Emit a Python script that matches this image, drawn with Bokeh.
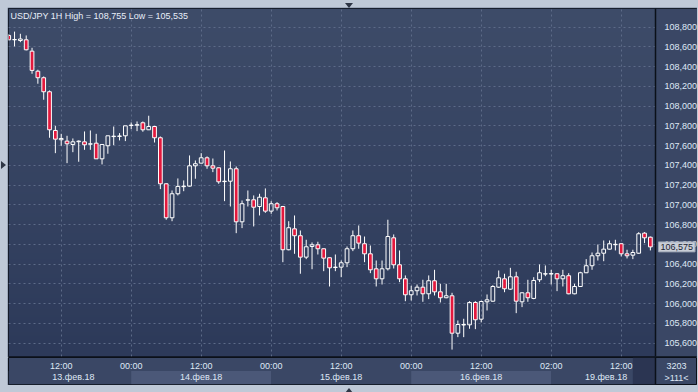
import numpy as np
from bokeh.plotting import figure
from bokeh.models import Range1d, FixedTicker, CustomJSTickFormatter, Label, Span, Div
from bokeh.layouts import column, row
from bokeh.embed import file_html
from bokeh.resources import INLINE
from bokeh.core.properties import value

# ---------------- data (USD/JPY, 1H bars) ----------------
opens = [108.716, 108.672, 108.665, 108.672, 108.557, 108.354, 108.288, 108.146, 107.754, 107.660,
         107.646, 107.612, 107.640, 107.639, 107.615, 107.625, 107.467, 107.599, 107.692, 107.694,
         107.700, 107.804, 107.808, 107.832, 107.761, 107.794, 107.680, 107.214, 106.870, 107.113,
         107.185, 107.190, 107.396, 107.423, 107.477, 107.396, 107.376, 107.236, 107.240, 107.366,
         106.829, 107.048, 107.052, 106.984, 107.072, 106.937, 107.012, 106.984, 106.546, 106.758,
         106.688, 106.471, 106.579, 106.596, 106.556, 106.465, 106.366, 106.370, 106.414, 106.556,
         106.688, 106.607, 106.505, 106.353, 106.252, 106.353, 106.667, 106.394, 106.252, 106.090,
         106.131, 106.167, 106.100, 106.232, 106.120, 106.060, 106.080, 105.701, 105.784, 105.786,
         106.012, 105.843, 106.019, 106.025, 106.167, 106.252, 106.147, 106.272, 106.019, 106.110,
         106.053, 106.242, 106.300, 106.300, 106.303, 106.252, 106.283, 106.100, 106.174, 106.313,
         106.384, 106.485, 106.511, 106.552, 106.597, 106.607, 106.505, 106.491, 106.511, 106.714,
         106.673]
highs = [108.730, 108.755, 108.733, 108.716, 108.591, 108.369, 108.301, 108.159, 107.801, 107.720,
         107.700, 107.673, 107.653, 107.744, 107.754, 107.720, 107.612, 107.700, 107.794, 107.727,
         107.801, 107.835, 107.845, 107.845, 107.903, 107.800, 107.693, 107.220, 107.146, 107.268,
         107.248, 107.501, 107.450, 107.524, 107.491, 107.470, 107.380, 107.551, 107.440, 107.389,
         107.045, 107.146, 107.096, 107.113, 107.167, 107.038, 107.028, 106.990, 106.835, 106.893,
         106.741, 106.647, 106.620, 106.627, 106.560, 106.470, 106.498, 106.437, 106.579, 106.741,
         106.792, 106.680, 106.589, 106.437, 106.437, 106.850, 106.701, 106.539, 106.286, 106.181,
         106.194, 106.242, 106.286, 106.343, 106.201, 106.201, 106.110, 105.830, 105.847, 106.025,
         106.025, 106.030, 106.093, 106.187, 106.336, 106.303, 106.363, 106.323, 106.115, 106.242,
         106.268, 106.397, 106.387, 106.343, 106.310, 106.343, 106.309, 106.201, 106.323, 106.451,
         106.518, 106.599, 106.640, 106.640, 106.647, 106.612, 106.546, 106.546, 106.724, 106.724,
         106.680]
lows = [108.665, 108.605, 108.648, 108.565, 108.328, 108.227, 108.065, 107.680, 107.524, 107.599,
        107.423, 107.534, 107.437, 107.558, 107.558, 107.467, 107.410, 107.518, 107.605, 107.653,
        107.646, 107.767, 107.747, 107.741, 107.758, 107.632, 107.160, 106.850, 106.835, 107.096,
        107.139, 107.185, 107.265, 107.420, 107.366, 107.332, 107.214, 107.038, 106.984, 106.714,
        106.765, 106.984, 106.782, 106.893, 106.920, 106.910, 106.944, 106.420, 106.540, 106.505,
        106.303, 106.451, 106.349, 106.498, 106.329, 106.174, 106.329, 106.268, 106.370, 106.532,
        106.556, 106.420, 106.309, 106.174, 106.194, 106.336, 106.356, 106.218, 106.025, 106.032,
        106.083, 106.019, 106.046, 106.083, 106.012, 106.055, 105.535, 105.661, 105.661, 105.746,
        105.742, 105.810, 105.931, 106.020, 106.159, 106.116, 106.140, 105.904, 105.965, 106.019,
        106.045, 106.218, 106.278, 106.194, 106.127, 106.174, 106.095, 106.095, 106.170, 106.310,
        106.343, 106.437, 106.430, 106.548, 106.539, 106.478, 106.458, 106.451, 106.505, 106.613,
        106.539]
closes = [108.672, 108.675, 108.680, 108.571, 108.362, 108.288, 108.146, 107.761, 107.666, 107.673,
          107.619, 107.639, 107.646, 107.609, 107.619, 107.467, 107.612, 107.700, 107.696, 107.698,
          107.801, 107.808, 107.812, 107.761, 107.794, 107.680, 107.214, 106.870, 107.113, 107.187,
          107.190, 107.396, 107.417, 107.477, 107.396, 107.372, 107.234, 107.240, 107.366, 106.829,
          107.012, 107.052, 106.977, 107.078, 106.937, 107.012, 106.971, 106.546, 106.769, 106.688,
          106.471, 106.576, 106.596, 106.556, 106.461, 106.363, 106.370, 106.414, 106.556, 106.688,
          106.613, 106.505, 106.343, 106.252, 106.353, 106.680, 106.394, 106.252, 106.090, 106.131,
          106.167, 106.100, 106.232, 106.120, 106.060, 106.080, 105.701, 105.789, 105.789, 106.012,
          105.837, 106.022, 106.039, 106.174, 106.262, 106.151, 106.272, 106.025, 106.110, 106.060,
          106.235, 106.313, 106.303, 106.305, 106.252, 106.283, 106.100, 106.174, 106.313, 106.384,
          106.485, 106.511, 106.552, 106.607, 106.601, 106.505, 106.485, 106.518, 106.708, 106.667,
          106.575]

y_ticks = [105.6, 105.8, 106.0, 106.2, 106.4, 106.6, 106.8, 107.0, 107.2,
           107.4, 107.6, 107.8, 108.0, 108.2, 108.4, 108.6, 108.8]
time_tick_idx = [9, 21, 33, 45, 57, 69, 81, 93, 105]
time_labels = ["12:00", "00:00", "12:00", "00:00", "12:00", "00:00", "12:00", "02:00", "12:00"]
day_start_idx = [21, 45, 69, 93]          # first bar of each new trading day
day_end_idx = 107                          # end of the dated area
date_label_idx = [11.1, 33, 57, 81, 102.4]
date_labels = ["13.фев.18", "14.фев.18", "15.фев.18", "16.фев.18", "19.фев.18"]
symbol = "USD/JPY"
timeframe = "1H"
info_top = "3203"
info_bottom = ">111<"

# ---------------- styling / layout ----------------
FONT = "Liberation Sans"
PANEL = "#3a4765"
BAND = "#4b5878"
DARKBOX = "#2b3552"
EDGE = "#0b1019"
GRID = "#5d6b88"
RED = "#e3183d"
TXT = "#dfe7f5"
FRAME = "#bfc9d7"
ARROW = "#2e3645"

PX_PER_BAR = 70.0 / 12.0
X0 = -0.035
X1 = X0 + 647 / PX_PER_BAR       # end of the candle area
XR = X0 + 689 / PX_PER_BAR       # end of the right price panel
Y0, Y1 = 105.465, 108.989

o = np.array(opens); h = np.array(highs); l = np.array(lows); c = np.array(closes)
n = len(o)
idx = np.arange(n)
body_top = np.maximum(o, c)
body_bot = np.minimum(o, c)
up = c >= o

p = figure(width=690, height=350, x_range=Range1d(X0, XR), y_range=Range1d(Y0, Y1),
           output_backend="svg", toolbar_location=None,
           x_axis_location=None, y_axis_location="right",
           min_border_left=1, min_border_right=0, min_border_top=1, min_border_bottom=1,
           border_fill_color=PANEL, background_fill_color=PANEL,
           outline_line_color=EDGE, outline_line_width=1)
p.margin = (0, 1, 0, 0)

# subtle vertical gradient of the candle area
NG = 348
t = np.linspace(0.0, 1.0, NG)[:, None]
bot_rgb = np.array([45, 58, 90]); top_rgb = np.array([62, 76, 105])
rgb = bot_rgb * (1 - t) + top_rgb * t
img = np.zeros((NG, 1), dtype=np.uint32)
view = img.view(dtype=np.uint8).reshape((NG, 1, 4))
view[:, :, 0] = rgb[:, 0:1].astype(np.uint8)
view[:, :, 1] = rgb[:, 1:2].astype(np.uint8)
view[:, :, 2] = rgb[:, 2:3].astype(np.uint8)
view[:, :, 3] = 255
p.image_rgba(image=[img], x=X0, y=Y0, dw=X1 - X0, dh=Y1 - Y0, level="image")

# grids
p.ygrid.ticker = FixedTicker(ticks=y_ticks)
p.ygrid.grid_line_color = GRID
p.ygrid.grid_line_dash = "2 3"
p.xgrid.ticker = FixedTicker(ticks=time_tick_idx)
p.xgrid.grid_line_color = GRID
p.xgrid.grid_line_dash = "2 3"

# right price panel (covers grid lines there)
p.quad(left=[X1], right=[XR], bottom=[Y0], top=[Y1], fill_color=PANEL, line_color=None)

# price axis drawn at the panel edge
ax = p.yaxis[0]
ax.fixed_location = X1
ax.ticker = FixedTicker(ticks=y_ticks)
ax.formatter = CustomJSTickFormatter(code="return tick.toFixed(3).replace('.', ',');")
ax.axis_line_color = None
ax.major_tick_line_color = None
ax.minor_tick_line_color = None
ax.major_label_standoff = 3
ax.major_label_text_font = FONT
ax.major_label_text_font_size = "9px"
ax.major_label_text_color = TXT

# candles
p.segment(x0=idx, y0=h, x1=idx, y1=body_top, line_color="white", line_width=1)
p.segment(x0=idx, y0=body_bot, x1=idx, y1=l, line_color="white", line_width=1)
dn = ~up
p.vbar(x=idx[dn], top=body_top[dn], bottom=body_bot[dn], width=0.64,
       fill_color=RED, line_color="white", line_width=1)
p.vbar(x=idx[up], top=body_top[up], bottom=body_bot[up], width=0.64,
       fill_alpha=0, line_color="white", line_width=1)

p.add_layout(Span(location=X1, dimension="height", line_color=EDGE, line_width=1.5))

def fmt(v):
    return f"{v:.3f}".replace(".", ",")

title = f"{symbol} {timeframe} High = {fmt(h.max())} Low = {fmt(l.min())}"
p.add_layout(Label(x=2, y=341, x_units="screen", y_units="screen", text=title,
                   text_font=FONT, text_font_size="9px", text_color="#e8eef8",
                   text_baseline="middle"))

last = Label(x=X1, y=c[-1], x_units="data", y_units="data", x_offset=3, text=fmt(c[-1]),
             text_font=FONT, text_font_size="9px", text_color="#1b2333",
             text_baseline="middle", background_fill_color="#c9ced7",
             border_line_color="#9aa3b2")
try:
    last.padding = 2
except Exception:
    pass
p.add_layout(last)

# ---------------- time / date strip ----------------
p2 = figure(width=690, height=28, x_range=p.x_range, y_range=Range1d(0, 2),
            output_backend="svg", toolbar_location=None,
            x_axis_location=None, y_axis_location=None,
            min_border_left=1, min_border_right=0, min_border_top=0, min_border_bottom=1,
            border_fill_color=PANEL, background_fill_color=PANEL,
            outline_line_color=EDGE, outline_line_width=1)
p2.margin = (0, 1, 0, 0)
p2.xgrid.visible = False
p2.ygrid.visible = False

band_left = [X0] + day_start_idx
band_right = day_start_idx + [day_end_idx]
band_cols = [BAND if k % 2 == 1 else PANEL for k in range(len(band_left))]
p2.quad(left=band_left, right=band_right, bottom=0, top=1, fill_color=band_cols, line_color=None)
p2.quad(left=[day_end_idx], right=[X1], bottom=[0], top=[2], fill_color=DARKBOX, line_color=None)
p2.add_layout(Span(location=X1, dimension="height", line_color=EDGE, line_width=1.5))

p2.text(x=time_tick_idx, y=1.36, text=time_labels, text_align="center", text_baseline="middle",
        text_font=value(FONT), text_font_size="9px", text_color=TXT)
p2.text(x=date_label_idx, y=0.52, text=date_labels, text_align="center", text_baseline="middle",
        text_font=value(FONT), text_font_size="9px", text_color=TXT)

p2.add_layout(Label(x=X1, x_offset=21, y=19, x_units="data", y_units="screen", text=info_top,
                    text_font=FONT, text_font_size="9px", text_color=TXT,
                    text_align="center", text_baseline="middle"))
p2.add_layout(Label(x=X1, x_offset=21, y=7, x_units="data", y_units="screen", text=info_bottom,
                    text_font=FONT, text_font_size="9px", text_color=TXT,
                    text_align="center", text_baseline="middle"))

# ---------------- outer light frame with its small arrows ----------------
def arrow_box(w, hgt, left, top, border_css):
    return ('<div style="position:relative;width:%dpx;height:%dpx;overflow:visible;">'
            '<div style="position:absolute;left:%dpx;top:%dpx;width:0;height:0;%s"></div></div>'
            % (w, hgt, left, top, border_css))

tri_down = arrow_box(698, 7, 345, -2, "border-left:4px solid transparent;border-right:4px solid transparent;"
                     "border-top:5px solid " + ARROW + ";")
tri_up = arrow_box(698, 7, 345, -2, "border-left:4px solid transparent;border-right:4px solid transparent;"
                   "border-bottom:5px solid " + ARROW + ";")
tri_right = arrow_box(7, 378, 1, 154, "border-top:4px solid transparent;border-bottom:4px solid transparent;"
                      "border-left:5px solid " + ARROW + ";")

top_div = Div(text=tri_down, width=698, height=7, margin=(0, 0, 0, 0))
left_div = Div(text=tri_right, width=7, height=378, margin=(0, 0, 0, 0))
bottom_div = Div(text=tri_up, width=698, height=7, margin=(0, 0, 0, 0))

inner = column(p, p2, spacing=0)
mid = row(left_div, inner, spacing=0)
layout = column(top_div, mid, bottom_div, spacing=0, styles={"background-color": FRAME})

open("out.html", "w").write(file_html(layout, INLINE))
